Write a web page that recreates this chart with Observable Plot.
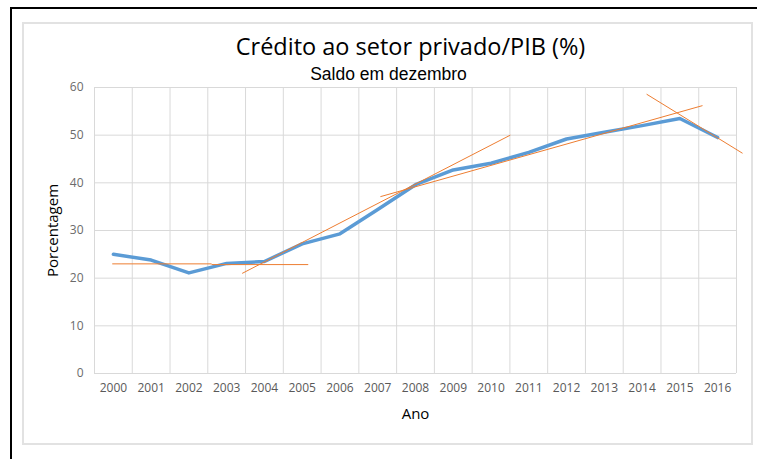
<!DOCTYPE html>
<html>
<head>
<meta charset="utf-8">
<script src="https://cdn.jsdelivr.net/npm/d3@7"></script>
<script src="https://cdn.jsdelivr.net/npm/@observablehq/plot@0.6"></script>
<style>
  html, body { margin: 0; padding: 0; background: #fff; }
  #wrap { position: relative; width: 757px; height: 459px; overflow: hidden; font-family: "Open Sans", sans-serif; }
  #outer { position: absolute; left: 10px; top: 7px; width: 800px; height: 500px; border-left: 2px solid #000; border-top: 2px solid #000; }
  #inner { position: absolute; left: 22px; top: 22px; width: 727px; height: 419px; border: 2px solid #e2e2e2; }
  #chart { position: absolute; left: 0; top: 0; }
</style>
</head>
<body>
<div id="wrap">
  <div id="outer"></div>
  <div id="inner"></div>
  <div id="chart"></div>
</div>
<script>
const years = [2000, 2001, 2002, 2003, 2004, 2005, 2006, 2007, 2008, 2009, 2010, 2011, 2012, 2013, 2014, 2015, 2016];
const credito = [25.0, 23.8, 21.1, 23.1, 23.5, 27.2, 29.3, 34.4, 39.6, 42.7, 44.1, 46.4, 49.2, 50.6, 52.0, 53.5, 49.5];
const yTicks = [0, 10, 20, 30, 40, 50, 60];

// Trend lines (start/end in data units)
const trendX1 = [1999.97, 2002.6, 2003.41, 2007.07, 2014.12];
const trendY1 = [23.0, 22.85, 21.0, 37.1, 58.6];
const trendX2 = [2002.6, 2005.16, 2010.51, 2015.6, 2016.66];
const trendY2 = [23.0, 22.85, 50.0, 56.2, 46.2];

const titleText = "Crédito ao setor privado/PIB (%)";
const subtitleText = "Saldo em dezembro";
const xLabel = "Ano";
const yLabel = "Porcentagem";

const series = years.map((y, i) => ({year: y, value: credito[i]}));
const trends = trendX1.map((x, i) => ({x1: x, y1: trendY1[i], x2: trendX2[i], y2: trendY2[i]}));
const bounds = d3.range(years[0] - 0.5, years[years.length - 1] + 1, 1);

const chart = Plot.plot({
  width: 757,
  height: 459,
  marginLeft: 94,
  marginRight: 21,
  marginTop: 87,
  marginBottom: 86,
  style: {fontFamily: "'Open Sans', sans-serif", background: "transparent", overflow: "visible"},
  x: {domain: [1999.5, 2016.5]},
  y: {domain: [0, 60]},
  marks: [
    Plot.ruleY(yTicks, {stroke: "#d9d9d9", strokeWidth: 1}),
    Plot.ruleX(bounds, {stroke: "#d9d9d9", strokeWidth: 1}),
    Plot.axisY(yTicks, {tickSize: 0, tickPadding: 11, label: null, fontSize: 12, fill: "#6b6b6b"}),
    Plot.axisX(years, {tickSize: 0, tickPadding: 10, label: null, fontSize: 12, fill: "#595959", tickFormat: d => String(d)}),
    Plot.line(series, {x: "year", y: "value", stroke: "#5b9bd5", strokeWidth: 3.5, strokeLinejoin: "round", strokeLinecap: "round"}),
    Plot.link(trends, {x1: "x1", y1: "y1", x2: "x2", y2: "y2", stroke: "#ed7d31", strokeWidth: 1}),
    Plot.text([titleText], {frameAnchor: "top", lineAnchor: "middle", dx: -5, dy: -40, fontSize: 23.5, fill: "#000"}),
    Plot.text([subtitleText], {frameAnchor: "top", lineAnchor: "middle", dx: -27, dy: -13, fontSize: 17.5, fill: "#000", fontFamily: "'Liberation Sans', Arial, sans-serif"}),
    Plot.text([xLabel], {frameAnchor: "bottom", lineAnchor: "middle", dy: 41, fontSize: 15, fill: "#000"}),
    Plot.text([yLabel], {frameAnchor: "left", lineAnchor: "middle", textAnchor: "middle", dx: -41, rotate: -90, fontSize: 15, fill: "#000"})
  ]
});
document.getElementById("chart").appendChild(chart);
</script>
</body>
</html>
